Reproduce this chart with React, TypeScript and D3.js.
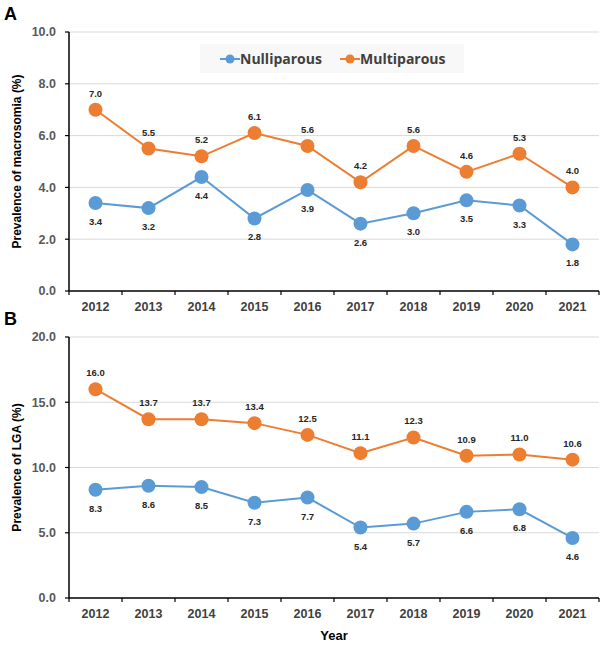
import React from "react";
import * as d3 from "d3";

const years = ["2012","2013","2014","2015","2016","2017","2018","2019","2020","2021"];
const macroNulli = [3.4,3.2,4.4,2.8,3.9,2.6,3.0,3.5,3.3,1.8];
const macroMulti = [7.0,5.5,5.2,6.1,5.6,4.2,5.6,4.6,5.3,4.0];
const lgaNulli = [8.3,8.6,8.5,7.3,7.7,5.4,5.7,6.6,6.8,4.6];
const lgaMulti = [16.0,13.7,13.7,13.4,12.5,11.1,12.3,10.9,11.0,10.6];
const macroTicks = [0,2,4,6,8,10];
const lgaTicks = [0,5,10,15,20];
const seriesNames = ["Nulliparous","Multiparous"];

const BLUE = "#5B9BD5";
const ORANGE = "#ED7D31";
const FONT = "'Liberation Sans', Arial, sans-serif";

function Panel({ letter, top, bottom, ymax, ticks, nulli, multi, title }: any) {
  const left = 69, right = 599;
  const x = d3.scaleBand().domain(years).range([left, right]);
  const y = d3.scaleLinear().domain([0, ymax]).range([bottom, top]);
  const cx = (yr: string) => (x(yr) as number) + x.bandwidth() / 2;
  const line = d3.line<number>().x((_, i) => cx(years[i])).y((d) => y(d));
  return (
    <g>
      <text x={4} y={top - 12} fontFamily={FONT} fontWeight="bold" fontSize={18}>{letter}</text>
      {ticks.map((t: number) => (
        <g key={t}>
          {t > 0 && <line x1={left} x2={right} y1={y(t)} y2={y(t)} stroke="#d9d9d9" strokeWidth={1} />}
          <line x1={left - 4} x2={left} y1={y(t)} y2={y(t)} stroke="#000" strokeWidth={1.2} />
          <text x={left - 13} y={y(t)} dy="0.35em" textAnchor="end" fontFamily={FONT} fontWeight="bold" fontSize={12.5} fill="#595959">{t.toFixed(1)}</text>
        </g>
      ))}
      <line x1={left} x2={left} y1={top} y2={bottom} stroke="#000" strokeWidth={1.5} />
      <line x1={left} x2={right} y1={bottom} y2={bottom} stroke="#000" strokeWidth={1.5} />
      {years.map((yr, i) => (
        <g key={yr}>
          <line x1={(x(yr) as number) + x.bandwidth()} x2={(x(yr) as number) + x.bandwidth()} y1={bottom} y2={bottom + 4} stroke="#000" strokeWidth={1.2} />
          {i === 0 && <line x1={left} x2={left} y1={bottom} y2={bottom + 4} stroke="#000" strokeWidth={1.2} />}
          <text x={cx(yr)} y={bottom + 20} textAnchor="middle" fontFamily={FONT} fontWeight="bold" fontSize={12.5} fill="#404040">{yr}</text>
        </g>
      ))}
      <text transform={`translate(21,${(top + bottom) / 2}) rotate(-90)`} textAnchor="middle" fontFamily={FONT} fontWeight="bold" fontSize={12} fill="#000">{title}</text>
      <path d={line(nulli) as string} fill="none" stroke={BLUE} strokeWidth={2} />
      <path d={line(multi) as string} fill="none" stroke={ORANGE} strokeWidth={2} />
      {nulli.map((v: number, i: number) => (
        <g key={"n" + i}>
          <circle cx={cx(years[i])} cy={y(v)} r={7} fill={BLUE} />
          <text x={cx(years[i])} y={y(v) + 22} textAnchor="middle" fontFamily={FONT} fontWeight="bold" fontSize={9.5} fill="#262626">{v.toFixed(1)}</text>
        </g>
      ))}
      {multi.map((v: number, i: number) => (
        <g key={"m" + i}>
          <circle cx={cx(years[i])} cy={y(v)} r={7} fill={ORANGE} />
          <text x={cx(years[i])} y={y(v) - 13} textAnchor="middle" fontFamily={FONT} fontWeight="bold" fontSize={9.5} fill="#262626">{v.toFixed(1)}</text>
        </g>
      ))}
    </g>
  );
}

export default function App() {
  return (
    <svg width={602} height={649} style={{ position: "absolute", left: 0, top: 0, background: "#fff" }}>
      <rect width={602} height={649} fill="#fff" />
      <Panel letter="A" top={32} bottom={291} ymax={10} ticks={macroTicks} nulli={macroNulli} multi={macroMulti} title="Prevalence of macrosomia (%)" />
      <Panel letter="B" top={337} bottom={598} ymax={20} ticks={lgaTicks} nulli={lgaNulli} multi={lgaMulti} title="Prevalence of LGA (%)" />
      <g>
        <rect x={200} y={44} width={264} height={29} fill="#f8f8f8" />
        {seriesNames.map((s, i) => {
          const lx = 220 + i * 120;
          const c = i === 0 ? BLUE : ORANGE;
          return (
            <g key={s}>
              <line x1={lx} x2={lx + 20} y1={59} y2={59} stroke={c} strokeWidth={2} />
              <circle cx={lx + 10} cy={59} r={4.5} fill={c} />
              <text x={lx + 20} y={59} dy="0.35em" fontFamily="'Open Sans', sans-serif" fontWeight="bold" fontSize={14} fill="#404040">{s}</text>
            </g>
          );
        })}
      </g>
      <text x={334} y={640} textAnchor="middle" fontFamily={FONT} fontWeight="bold" fontSize={13}>Year</text>
    </svg>
  );
}
